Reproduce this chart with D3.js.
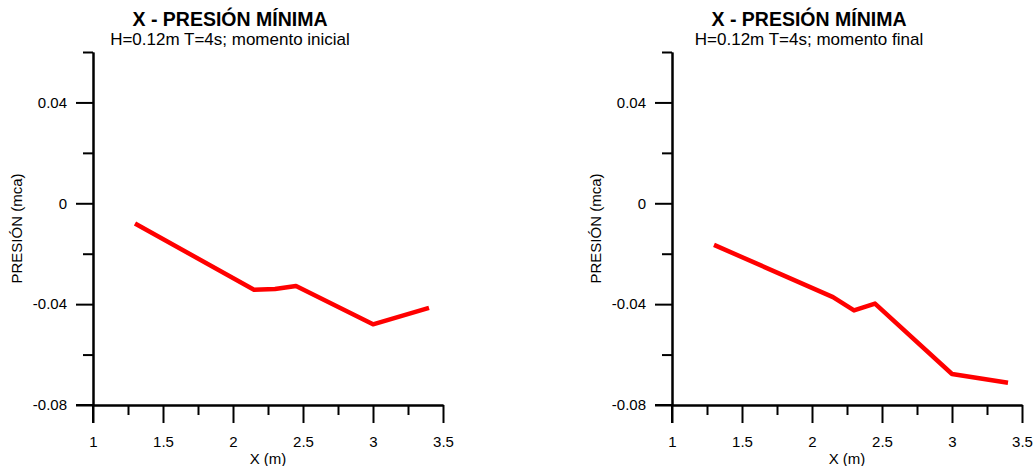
<!DOCTYPE html>
<html>
<head>
<meta charset="utf-8">
<script src="https://cdn.jsdelivr.net/npm/d3@7"></script>
<style>
  html, body { margin: 0; padding: 0; background: #fff; }
  svg { display: block; }
  text { font-family: "Liberation Sans", Arial, sans-serif; fill: #000; }
</style>
</head>
<body>
<svg id="chart" width="1034" height="466"></svg>
<script>
// ---- data ----
const xPositions = [1.3, 2.15, 2.3, 2.45, 3.0, 3.4];
const pressureInitial = [-0.008, -0.0343, -0.034, -0.0328, -0.048, -0.0415];
const pressureFinal = [-0.0165, -0.0372, -0.0425, -0.0398, -0.0677, -0.0712];
const titleText = "X - PRESIÓN MÍNIMA";
const subtitles = ["H=0.12m T=4s; momento inicial", "H=0.12m T=4s; momento final"];
const xMajorTicks = [1, 1.5, 2, 2.5, 3, 3.5];
const xMinorTicks = [1.25, 1.75, 2.25, 2.75, 3.25];
const yMajorTicks = [-0.08, -0.04, 0, 0.04];
const yMinorTicks = [-0.06, -0.02, 0.02, 0.06];
const xLabel = "X (m)";
const yLabel = "PRESIÓN (mca)";

const svg = d3.select("#chart");
const panels = [
  { left: 93, values: pressureInitial, subtitle: subtitles[0] },
  { left: 672, values: pressureFinal, subtitle: subtitles[1] }
];
const plotW = 350, plotTop = 52, plotBottom = 405;
const fmt = d => String(+d.toFixed(2)); // plain hyphen-minus

panels.forEach(p => {
  const g = svg.append("g").attr("transform", `translate(${p.left},0)`);
  const x = d3.scaleLinear().domain([1, 3.5]).range([0, plotW]);
  const y = d3.scaleLinear().domain([-0.08, 0.06]).range([plotBottom, plotTop]);

  // titles
  g.append("text").attr("x", plotW / 2 - 38).attr("y", 26)
    .attr("text-anchor", "middle").attr("font-size", 19.5).attr("font-weight", "bold")
    .text(titleText);
  g.append("text").attr("x", plotW / 2 - 38).attr("y", 45)
    .attr("text-anchor", "middle").attr("font-size", 17)
    .text(p.subtitle);

  // x axis: major and minor ticks
  const xAxisG = g.append("g").attr("transform", `translate(0,${plotBottom})`);
  xAxisG.call(d3.axisBottom(x).tickValues(xMajorTicks).tickSize(18).tickPadding(13)
      .tickFormat(fmt).tickSizeOuter(0));
  xAxisG.append("g").call(d3.axisBottom(x).tickValues(xMinorTicks).tickSize(10)
      .tickFormat("").tickSizeOuter(0));
  xAxisG.selectAll("path.domain").attr("stroke", "#000").attr("stroke-width", 2);
  xAxisG.selectAll(".tick line").attr("stroke", "#000").attr("stroke-width", 2);
  xAxisG.selectAll(".tick text").attr("font-size", 15)
    .attr("font-family", "Liberation Sans, Arial, sans-serif").attr("fill", "#000");
  g.append("line").attr("x1", -17).attr("x2", 0).attr("y1", plotBottom).attr("y2", plotBottom)
    .attr("stroke", "#000").attr("stroke-width", 2);

  // y axis
  const yAxisG = g.append("g");
  yAxisG.call(d3.axisLeft(y).tickValues(yMajorTicks).tickSize(17).tickPadding(9)
      .tickFormat(fmt).tickSizeOuter(0));
  yAxisG.append("g").call(d3.axisLeft(y).tickValues(yMinorTicks).tickSize(10)
      .tickFormat("").tickSizeOuter(0));
  yAxisG.selectAll("path.domain").attr("stroke", "#000").attr("stroke-width", 2);
  yAxisG.selectAll(".tick line").attr("stroke", "#000").attr("stroke-width", 2);
  yAxisG.selectAll(".tick text").attr("font-size", 15)
    .attr("font-family", "Liberation Sans, Arial, sans-serif").attr("fill", "#000");
  g.append("line").attr("x1", 0).attr("x2", 0).attr("y1", plotBottom).attr("y2", plotBottom + 18)
    .attr("stroke", "#000").attr("stroke-width", 2);

  // axis labels
  g.append("text").attr("x", plotW / 2).attr("y", 464)
    .attr("text-anchor", "middle").attr("font-size", 15).text(xLabel);
  g.append("text")
    .attr("transform", `translate(-71,${(plotTop + plotBottom) / 2}) rotate(-90)`)
    .attr("text-anchor", "middle").attr("font-size", 15).text(yLabel);

  // data line
  const data = xPositions.map((xv, i) => [xv, p.values[i]]);
  g.append("path").datum(data)
    .attr("fill", "none").attr("stroke", "#ff0000").attr("stroke-width", 4.5)
    .attr("stroke-linejoin", "round")
    .attr("d", d3.line().x(d => x(d[0])).y(d => y(d[1])));
});
</script>
</body>
</html>
